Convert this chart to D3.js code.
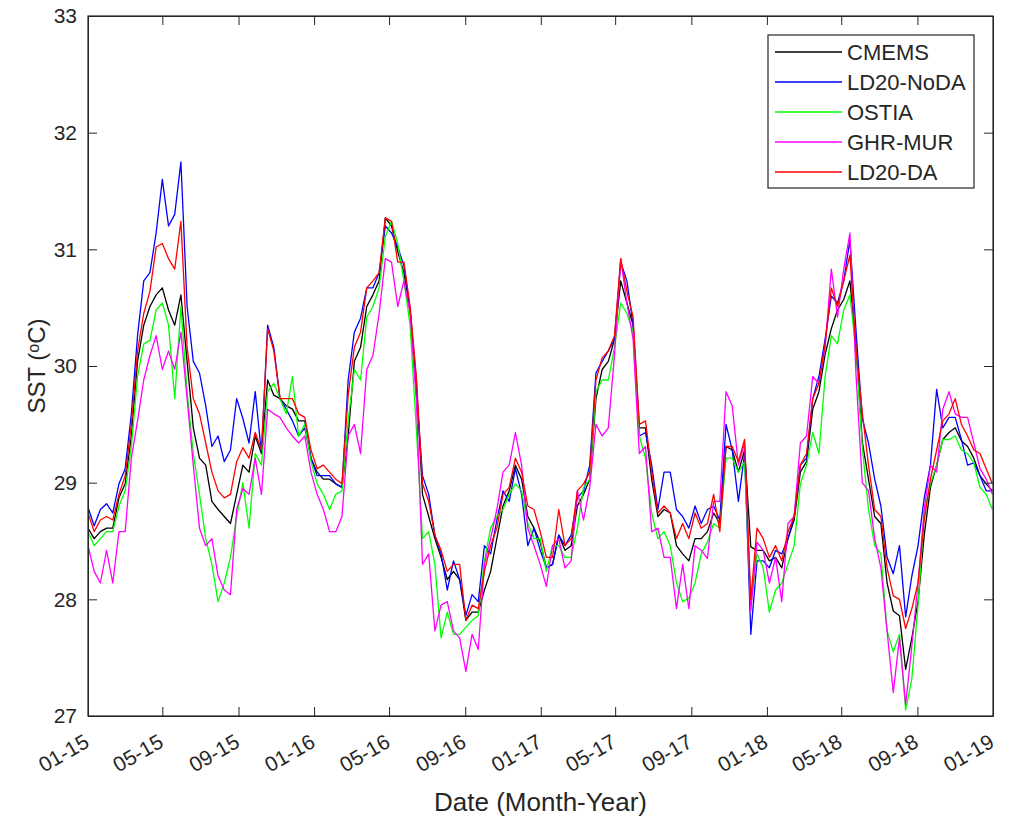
<!DOCTYPE html>
<html>
<head>
<meta charset="utf-8">
<script src="https://cdn.jsdelivr.net/npm/d3@7"></script>
<style>
  body { margin: 0; background: #fff; }
  text { font-family: "Liberation Sans", Arial, Helvetica, sans-serif; fill: #262626; }
</style>
</head>
<body>
<div id="chart"></div>
<script>
// daily SST, one sample every 10 days from 01-01-2015
var startDate = new Date(2015, 0, 1);
var stepDays = 10;

var cmems = [
  28.61, 28.52, 28.58, 28.61, 28.61, 28.87, 28.99, 29.40, 30.04, 30.35,
  30.51, 30.61, 30.67, 30.48, 30.35, 30.61, 30.04, 29.47, 29.21, 29.15,
  28.84, 28.77, 28.71, 28.65, 28.90, 29.15, 29.09, 29.40, 29.25, 29.88,
  29.75, 29.72, 29.66, 29.63, 29.53, 29.53, 29.21, 29.09, 29.03, 29.03,
  28.99, 28.96, 29.40, 30.04, 30.16, 30.51, 30.61, 30.73, 31.27, 31.20,
  30.98, 30.80, 30.48, 29.88, 28.90, 28.71, 28.52, 28.36, 28.17, 28.24,
  28.17, 27.82, 27.89, 27.89, 28.08, 28.24, 28.52, 28.80, 28.93, 29.15,
  29.03, 28.71, 28.61, 28.49, 28.27, 28.30, 28.55, 28.42, 28.46, 28.80,
  28.90, 29.03, 29.72, 29.97, 30.04, 30.23, 30.73, 30.54, 30.35, 29.47,
  29.47, 29.03, 28.71, 28.77, 28.74, 28.46, 28.39, 28.33, 28.52, 28.52,
  28.58, 28.74, 28.65, 29.31, 29.28, 29.09, 29.28, 28.45, 28.42, 28.42,
  28.33, 28.36, 28.27, 28.52, 28.68, 29.09, 29.18, 29.63, 29.78, 30.10,
  30.32, 30.48, 30.57, 30.73, 30.16, 29.35, 29.03, 28.71, 28.65, 28.14,
  27.90, 27.86, 27.40, 27.67, 27.98, 28.55, 28.96, 29.15, 29.37, 29.43,
  29.47, 29.36, 29.31, 29.21, 29.06, 28.99, 28.93
];

var ld20NoDA = [
  28.79, 28.63, 28.77, 28.82, 28.74, 28.99, 29.12, 29.59, 30.26, 30.73,
  30.80, 31.14, 31.60, 31.20, 31.30, 31.75, 30.51, 30.04, 29.94, 29.66,
  29.31, 29.40, 29.18, 29.28, 29.72, 29.55, 29.34, 29.78, 29.25, 30.35,
  30.16, 29.72, 29.63, 29.53, 29.40, 29.47, 29.21, 29.06, 29.06, 29.06,
  28.99, 28.96, 29.88, 30.29, 30.41, 30.67, 30.67, 30.80, 31.20, 31.14,
  31.02, 30.86, 30.48, 29.78, 29.06, 28.90, 28.55, 28.39, 28.08, 28.33,
  28.17, 27.86, 28.04, 27.98, 28.46, 28.39, 28.68, 28.93, 28.84, 29.12,
  28.90, 28.46, 28.61, 28.42, 28.27, 28.30, 28.55, 28.46, 28.55, 28.87,
  28.93, 29.15, 29.94, 30.04, 30.13, 30.23, 30.89, 30.73, 30.35, 29.40,
  29.43, 29.15, 28.77, 29.09, 29.09, 28.77, 28.71, 28.61, 28.80, 28.65,
  28.77, 28.80, 28.68, 29.50, 29.28, 28.84, 29.25, 27.70, 28.33, 28.33,
  28.27, 28.42, 28.39, 28.52, 28.71, 29.15, 29.21, 29.72, 29.91, 30.23,
  30.60, 30.54, 30.73, 31.08, 30.29, 29.55, 29.34, 29.03, 28.80, 28.36,
  28.22, 28.46, 27.85, 28.20, 28.46, 28.87, 29.15, 29.80, 29.47, 29.56,
  29.56, 29.37, 29.15, 29.17, 29.06, 28.93, 28.93
];

var ostia = [
  28.58, 28.46, 28.52, 28.58, 28.58, 28.80, 28.93, 29.31, 29.91, 30.19,
  30.22, 30.48, 30.54, 30.35, 29.72, 30.51, 29.78, 29.25, 28.90, 28.52,
  28.30, 27.98, 28.14, 28.36, 28.71, 29.00, 28.61, 29.25, 29.15, 29.78,
  29.85, 29.72, 29.59, 29.91, 29.40, 29.50, 29.18, 28.99, 28.90, 28.77,
  28.90, 28.93, 29.53, 29.97, 29.88, 30.42, 30.51, 30.67, 31.11, 31.24,
  31.05, 30.73, 30.35, 29.47, 28.52, 28.58, 28.30, 27.67, 27.89, 27.70,
  27.70, 27.76, 27.82, 27.86, 28.33, 28.61, 28.71, 28.77, 28.90, 28.99,
  28.93, 28.65, 28.52, 28.52, 28.24, 28.46, 28.46, 28.36, 28.36, 28.61,
  28.96, 29.03, 29.78, 29.88, 29.88, 30.16, 30.54, 30.45, 30.29, 29.40,
  29.21, 28.74, 28.52, 28.58, 28.46, 28.14, 27.98, 28.01, 28.14, 28.39,
  28.49, 28.65, 28.61, 29.21, 29.21, 29.09, 29.18, 27.95, 28.39, 28.27,
  27.89, 28.08, 28.14, 28.30, 28.46, 28.99, 29.15, 29.43, 29.25, 29.91,
  30.26, 30.19, 30.48, 30.61, 30.13, 29.30, 28.77, 28.46, 28.39, 27.73,
  27.55, 27.70, 27.05, 27.32, 27.95, 28.74, 28.99, 29.15, 29.37, 29.37,
  29.40, 29.28, 29.25, 29.17, 28.96, 28.90, 28.77
];

var ghrMur = [
  28.46, 28.24, 28.14, 28.42, 28.14, 28.58, 28.58, 29.21, 29.53, 29.88,
  30.09, 30.26, 29.97, 30.13, 29.97, 30.29, 29.72, 29.15, 28.61, 28.46,
  28.52, 28.20, 28.08, 28.04, 28.77, 28.95, 28.90, 29.21, 28.90, 29.63,
  29.59, 29.56, 29.47, 29.40, 29.34, 29.40, 29.09, 28.90, 28.77, 28.58,
  28.58, 28.71, 29.40, 29.50, 29.25, 29.97, 30.09, 30.45, 30.92, 30.89,
  30.51, 30.73, 30.45, 29.72, 28.30, 28.39, 27.73, 27.95, 27.98, 27.73,
  27.67, 27.38, 27.70, 27.57, 28.30, 28.52, 28.77, 29.09, 29.15, 29.43,
  29.15, 28.61, 28.46, 28.30, 28.11, 28.46, 28.52, 28.27, 28.33, 28.93,
  28.68, 28.96, 29.50, 29.40, 29.47, 30.10, 30.92, 30.54, 30.23, 29.25,
  29.31, 28.58, 28.61, 28.36, 28.36, 27.92, 28.30, 27.92, 28.46, 28.42,
  28.35, 28.84, 28.84, 29.78, 29.66, 29.15, 29.34, 27.90, 28.49, 28.42,
  28.14, 28.36, 27.98, 28.65, 28.71, 29.34, 29.40, 29.91, 29.85, 30.16,
  30.83, 30.42, 30.83, 31.14, 29.91, 29.00, 28.93, 28.52, 28.27, 27.73,
  27.20, 27.67, 27.10, 27.60, 28.14, 28.77, 29.15, 29.09, 29.63, 29.78,
  29.59, 29.56, 29.56, 29.34, 29.12, 29.03, 28.90
];

var ld20DA = [
  28.74, 28.58, 28.68, 28.71, 28.68, 28.90, 29.06, 29.50, 30.13, 30.45,
  30.64, 31.02, 31.05, 30.92, 30.83, 31.24, 30.16, 29.72, 29.59, 29.34,
  29.09, 28.93, 28.87, 28.90, 29.18, 29.30, 29.21, 29.43, 29.28, 30.32,
  30.13, 29.72, 29.72, 29.72, 29.59, 29.56, 29.28, 29.12, 29.15, 29.09,
  29.03, 28.99, 29.75, 30.16, 30.29, 30.67, 30.73, 30.80, 31.27, 31.24,
  30.89, 30.89, 30.51, 29.91, 28.99, 28.84, 28.55, 28.42, 28.24, 28.30,
  28.30, 27.82, 27.95, 27.92, 28.24, 28.46, 28.61, 28.90, 28.96, 29.21,
  29.09, 28.80, 28.77, 28.58, 28.36, 28.36, 28.77, 28.46, 28.52, 28.93,
  28.99, 29.09, 29.88, 30.07, 30.13, 30.26, 30.92, 30.64, 30.42, 29.50,
  29.53, 29.09, 28.74, 28.80, 28.74, 28.52, 28.65, 28.52, 28.74, 28.61,
  28.65, 28.90, 28.58, 29.31, 29.31, 29.18, 29.37, 28.00, 28.61, 28.52,
  28.36, 28.46, 28.33, 28.58, 28.71, 29.15, 29.25, 29.72, 29.85, 30.19,
  30.67, 30.51, 30.73, 30.95, 30.13, 29.60, 29.15, 28.77, 28.71, 28.27,
  28.03, 28.00, 27.75, 27.92, 28.14, 28.68, 29.03, 29.28, 29.53, 29.59,
  29.72, 29.50, 29.40, 29.28, 29.25, 29.12, 28.99
];

var seriesNames = ['CMEMS', 'LD20-NoDA', 'OSTIA', 'GHR-MUR', 'LD20-DA'];
var seriesColors = ['#000000', '#0000ff', '#00ff00', '#ff00ff', '#ff0000'];
var seriesValues = [cmems, ld20NoDA, ostia, ghrMur, ld20DA];
var yTicks = [27, 28, 29, 30, 31, 32, 33];

var dates = cmems.map(function(d, i) { return d3.timeDay.offset(startDate, i * stepDays); });

var series = seriesNames.map(function(name, k) {
  return { name: name, color: seriesColors[k],
           points: seriesValues[k].map(function(v, i) { return { date: dates[i], value: v }; }) };
});

var margin = { top: 16, right: 20, bottom: 102, left: 88 },
    width = 905,
    height = 700;

var svg = d3.select('#chart').append('svg')
    .attr('width', 1013)
    .attr('height', 818);

svg.append('rect').attr('width', 1013).attr('height', 818).attr('fill', '#fff');

var g = svg.append('g')
    .attr('transform', 'translate(' + margin.left + ',' + margin.top + ')');

var x = d3.scaleTime()
    .domain([new Date(2015, 0, 1), new Date(2019, 0, 1)])
    .range([0, width]);

var y = d3.scaleLinear()
    .domain([27, 33])
    .range([height, 0]);

var xTickDates = d3.timeMonth.every(4).range(new Date(2015, 0, 1), new Date(2019, 0, 2));

// lines
var line = d3.line()
    .x(function(d) { return x(d.date); })
    .y(function(d) { return y(d.value); });

g.append('defs').append('clipPath').attr('id', 'clip')
  .append('rect').attr('width', width).attr('height', height);

g.append('g').attr('clip-path', 'url(#clip)')
  .selectAll('path')
  .data(series)
  .enter().append('path')
    .attr('d', function(d) { return line(d.points); })
    .attr('fill', 'none')
    .attr('stroke', function(d) { return d.color; })
    .attr('stroke-width', 1.3)
    .attr('stroke-linejoin', 'round');

// axes (matlab style box with inward ticks)
var tickLen = 9;

var axBottom = g.append('g')
    .attr('transform', 'translate(0,' + height + ')')
    .call(d3.axisBottom(x).tickValues(xTickDates).tickFormat(d3.timeFormat('%m-%y'))
          .tickSizeInner(-tickLen).tickSizeOuter(0));

axBottom.selectAll('text')
    .attr('x', 0)
    .attr('y', 0)
    .attr('dy', 0)
    .attr('text-anchor', 'end')
    .attr('transform', 'translate(2,30) rotate(-30)')
    .style('font-size', '21px');

var axLeft = g.append('g')
    .call(d3.axisLeft(y).tickValues(yTicks).tickFormat(d3.format('d'))
          .tickSizeInner(-tickLen).tickSizeOuter(0).tickPadding(11));

axLeft.selectAll('text').style('font-size', '21px');

g.append('g')
    .call(d3.axisTop(x).tickValues(xTickDates).tickFormat('')
          .tickSizeInner(-tickLen).tickSizeOuter(0));

g.append('g')
    .attr('transform', 'translate(' + width + ',0)')
    .call(d3.axisRight(y).tickValues(yTicks).tickFormat('')
          .tickSizeInner(-tickLen).tickSizeOuter(0));

g.selectAll('.domain, .tick line')
    .attr('stroke', '#262626')
    .attr('stroke-width', 1);

g.append('rect')
    .attr('width', width)
    .attr('height', height)
    .attr('fill', 'none')
    .attr('stroke', '#262626')
    .attr('stroke-width', 1.2);

// axis labels
svg.append('text')
    .attr('x', margin.left + width / 2)
    .attr('y', 811)
    .attr('text-anchor', 'middle')
    .style('font-size', '26px')
    .text('Date (Month-Year)');

var yl = svg.append('text')
    .attr('transform', 'translate(45,' + (margin.top + height / 2) + ') rotate(-90)')
    .attr('text-anchor', 'middle')
    .style('font-size', '24px');
yl.append('tspan').text('SST (');
yl.append('tspan').attr('baseline-shift', '40%').style('font-size', '16px').text('o');
yl.append('tspan').text('C)');

// legend
var legend = svg.append('g')
    .attr('transform', 'translate(768,35)');

legend.append('rect')
    .attr('width', 206)
    .attr('height', 153)
    .attr('fill', '#fff')
    .attr('stroke', '#262626')
    .attr('stroke-width', 1.2);

var item = legend.selectAll('.item')
    .data(series)
    .enter().append('g')
    .attr('class', 'item')
    .attr('transform', function(d, i) { return 'translate(0,' + (17 + i * 30) + ')'; });

item.append('line')
    .attr('x1', 7).attr('x2', 74)
    .attr('stroke', function(d) { return d.color; })
    .attr('stroke-width', 1.3);

item.append('text')
    .attr('x', 79)
    .attr('dy', '0.35em')
    .style('font-size', '22px')
    .text(function(d) { return d.name; });
</script>
</body>
</html>
